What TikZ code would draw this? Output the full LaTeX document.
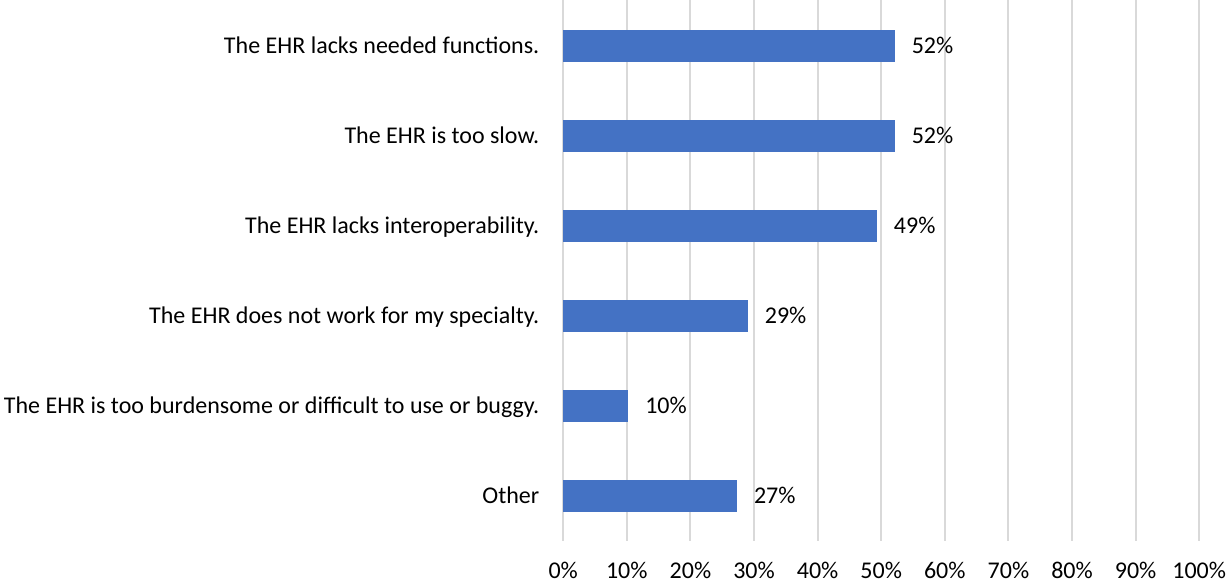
\documentclass[tikz,border=0pt]{standalone}
\usepackage{fontspec}
\setmainfont{Carlito}
\definecolor{barblue}{HTML}{4472C4}
\definecolor{gridgray}{HTML}{D9D9D9}
\definecolor{txt}{HTML}{000000}
\begin{document}
\begin{tikzpicture}[x=1pt,y=-1pt,
  catlabel/.style={anchor=base east,inner sep=0pt,text=txt,font=\fontsize{24}{28}\selectfont},
  vallabel/.style={anchor=base west,inner sep=0pt,text=txt,font=\fontsize{24}{28}\selectfont},
  ticklabel/.style={anchor=base,inner sep=0pt,text=txt,font=\fontsize{24}{28}\selectfont},
  gridline/.style={draw=gridgray,line width=2pt},
  barbox/.style={fill=barblue}]
\useasboundingbox (0,0) rectangle (1226,582);
% grid lines and tick labels
\foreach \i in {0,...,10}{
  \coordinate (gt\i) at ({563.2+63.6*\i},0);
  \coordinate (gb\i) at ({563.2+63.6*\i},541);
  \draw[gridline] (gt\i) -- (gb\i);
  \pgfmathtruncatemacro{\pc}{\i*10}
  \node[ticklabel] (tick\i) at ({563.2+63.6*\i},578) {\pc\%};
}
% bars: name/center y/value end x/label
\foreach \n/\y/\v/\lab/\cat in {
  1/46/52.1/52\%/The EHR lacks needed functions.,
  2/136/52.1/52\%/The EHR is too slow.,
  3/226/49.3/49\%/The EHR lacks interoperability.,
  4/316/29.0/29\%/The EHR does not work for my specialty.,
  5/406/10.2/10\%/The EHR is too burdensome or difficult to use or buggy.,
  6/496/27.3/27\%/Other}{
  \fill[barbox] (563.2,\y-16) rectangle ({563.2+6.36*\v},\y+16);
  \node[vallabel] (val\n) at ({563.2+6.36*\v+17},\y+7.6) {\lab};
  \node[catlabel] (cat\n) at (539.5,\y+7.6) {\cat};
}
\end{tikzpicture}
\end{document}
